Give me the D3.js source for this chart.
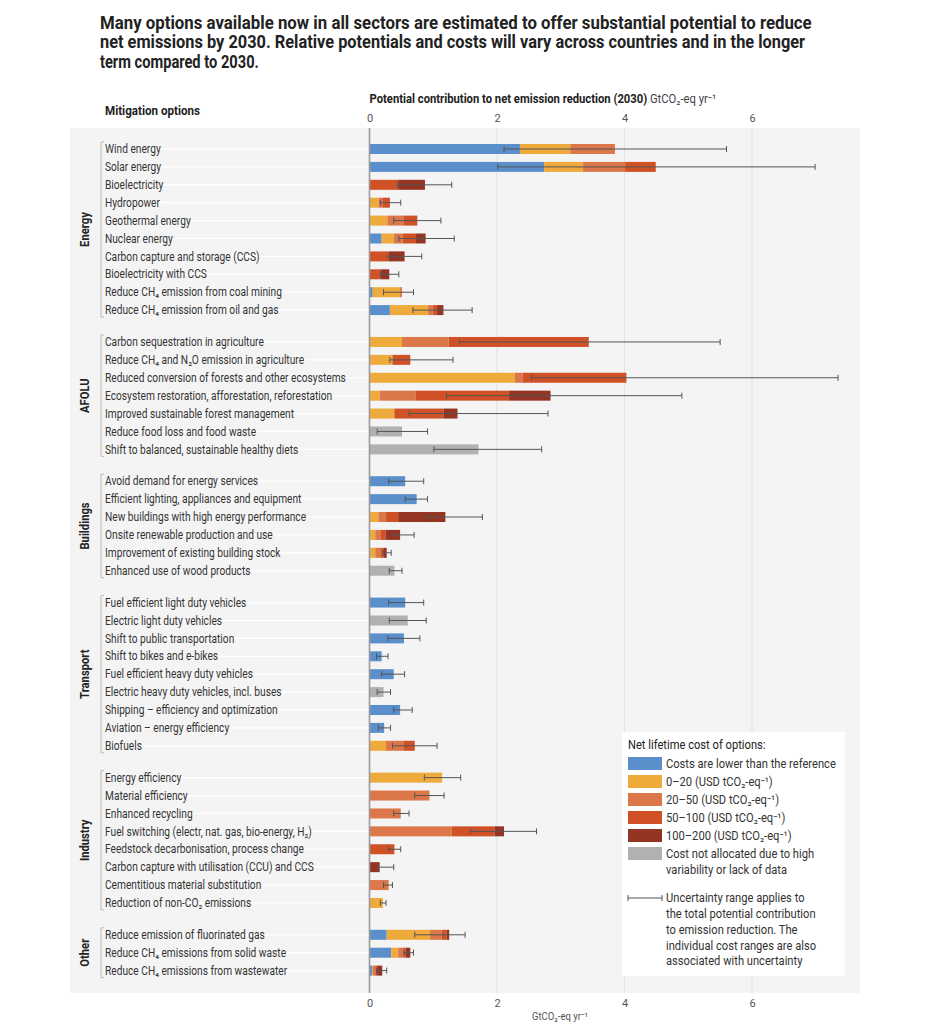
<!DOCTYPE html>
<html>
<head>
<meta charset="utf-8">
<script src="https://cdn.jsdelivr.net/npm/d3@7"></script>
<style>
  body { margin: 0; background: #fff; }
  svg text { font-family: Roboto, "Open Sans", sans-serif; fill: #333; }
</style>
</head>
<body>
<svg id="chart"></svg>
<script>
// options, grouped by sector
const sectors = ['Energy', 'AFOLU', 'Buildings', 'Transport', 'Industry', 'Other'];
const sectorOf = [
  0,0,0,0,0,0,0,0,0,0,
  1,1,1,1,1,1,1,
  2,2,2,2,2,2,
  3,3,3,3,3,3,3,3,3,
  4,4,4,4,4,4,4,4,
  5,5,5
];
const options = [
  'Wind energy', 'Solar energy', 'Bioelectricity', 'Hydropower', 'Geothermal energy',
  'Nuclear energy', 'Carbon capture and storage (CCS)', 'Bioelectricity with CCS',
  'Reduce CH₄ emission from coal mining', 'Reduce CH₄ emission from oil and gas',
  'Carbon sequestration in agriculture', 'Reduce CH₄ and N₂O emission in agriculture',
  'Reduced conversion of forests and other ecosystems', 'Ecosystem restoration, afforestation, reforestation',
  'Improved sustainable forest management', 'Reduce food loss and food waste',
  'Shift to balanced, sustainable healthy diets',
  'Avoid demand for energy services', 'Efficient lighting, appliances and equipment',
  'New buildings with high energy performance', 'Onsite renewable production and use',
  'Improvement of existing building stock', 'Enhanced use of wood products',
  'Fuel efficient light duty vehicles', 'Electric light duty vehicles', 'Shift to public transportation',
  'Shift to bikes and e-bikes', 'Fuel efficient heavy duty vehicles', 'Electric heavy duty vehicles, incl. buses',
  'Shipping – efficiency and optimization', 'Aviation – energy efficiency', 'Biofuels',
  'Energy efficiency', 'Material efficiency', 'Enhanced recycling',
  'Fuel switching (electr, nat. gas, bio-energy, H₂)', 'Feedstock decarbonisation, process change',
  'Carbon capture with utilisation (CCU) and CCS', 'Cementitious material substitution',
  'Reduction of non-CO₂ emissions',
  'Reduce emission of fluorinated gas', 'Reduce CH₄ emissions from solid waste',
  'Reduce CH₄ emissions from wastewater'
];

// potential (GtCO2-eq/yr) in each cost class, per option
const lowerCost = [2.36,2.74,0,0,0,0.19,0,0,0.05,0.32, 0,0,0,0,0,0,0, 0.56,0.74,0,0,0,0, 0.56,0,0.54,0.19,0.38,0,0.48,0.23,0, 0,0,0,0,0,0,0,0, 0.27,0.34,0.04];
const cost0_20  = [0.79,0.61,0,0.14,0.28,0.19,0,0,0.43,0.60, 0.51,0.36,2.28,0.16,0.39,0,0, 0,0,0.14,0.09,0.09,0, 0,0,0,0,0,0,0,0,0.26, 1.14,0,0,0,0,0,0,0.21, 0.68,0.11,0.01];
const cost20_50 = [0.70,0.66,0,0.06,0.25,0.14,0,0,0.03,0.07, 0.73,0,0.12,0.56,0,0,0, 0,0,0.12,0.08,0.08,0, 0,0,0,0,0,0,0,0,0.27, 0,0.94,0.49,1.29,0,0,0.30,0, 0.18,0.08,0.04];
const cost50_100 = [0,0.48,0.45,0.12,0.22,0.21,0.30,0.17,0,0.07, 2.20,0.28,1.63,1.47,0.77,0,0, 0,0,0.19,0.08,0.05,0, 0,0,0,0,0,0,0,0,0.18, 0,0,0,0.67,0.39,0,0,0, 0.08,0.04,0.03];
const cost100_200 = [0,0,0.42,0,0,0.15,0.25,0.14,0,0.10, 0,0,0,0.65,0.22,0,0, 0,0,0.74,0.23,0.05,0, 0,0,0,0,0,0,0,0,0, 0,0,0,0.15,0,0.16,0,0, 0.04,0.07,0.08];
const notAllocated = [0,0,0,0,0,0,0,0,0,0, 0,0,0,0,0,0.51,1.71, 0,0,0,0,0,0.39, 0,0.60,0,0,0,0.22,0,0,0, 0,0,0,0,0,0,0,0, 0,0,0];

// uncertainty range of the total potential
const rangeLow  = [2.11,2.01,0.44,0.17,0.38,0.46,0.29,0.17,0.22,0.68, 1.41,0.32,2.54,1.21,0.62,0.12,1.01, 0.30,0.56,0.90,0.36,0.22,0.31, 0.30,0.31,0.29,0.11,0.19,0.12,0.38,0.14,0.36, 0.86,0.71,0.38,1.58,0.30,0.13,0.22,0.17, 0.71,0.54,0.11];
const rangeHigh = [5.60,6.99,1.29,0.49,1.12,1.33,0.82,0.46,0.69,1.61, 5.50,1.31,7.35,4.90,2.80,0.91,2.70, 0.85,0.91,1.77,0.70,0.34,0.51, 0.85,0.89,0.79,0.29,0.55,0.33,0.67,0.33,1.06, 1.43,1.17,0.62,2.62,0.49,0.38,0.36,0.26, 1.50,0.69,0.27];

const xTicks = [0, 2, 4, 6];
const costKeys = ['lower', 'c0_20', 'c20_50', 'c50_100', 'c100_200', 'na'];
const costColors = ['#5b8fcb', '#efaa3c', '#dc774a', '#d15127', '#943423', '#b1b1b1'];
const costLabels = [
  'Costs are lower than the reference',
  '0–20 (USD tCO₂-eq⁻¹)',
  '20–50 (USD tCO₂-eq⁻¹)',
  '50–100 (USD tCO₂-eq⁻¹)',
  '100–200 (USD tCO₂-eq⁻¹)',
  'Cost not allocated due to high|variability or lack of data'
];

// squeeze a node horizontally around x0 so it is `target` px wide (narrow font look)
function squeeze(node, target, x0) {
  const w = node.getBBox().width;
  const k = target / w;
  d3.select(node).attr('transform', `translate(${x0},0) scale(${k},1) translate(${-x0},0)`);
  return k;
}

function main() {
  const width = 951, height = 1024;
  const svg = d3.select('#chart').attr('width', width).attr('height', height);

  const rows = options.map((name, i) => ({
    name, i, sector: sectorOf[i],
    lower: lowerCost[i], c0_20: cost0_20[i], c20_50: cost20_50[i],
    c50_100: cost50_100[i], c100_200: cost100_200[i], na: notAllocated[i],
    lo: rangeLow[i], hi: rangeHigh[i]
  }));

  // vertical slot: one per row, plus a gap between sectors
  const sectorGap = 0.78;
  const y = d3.scaleLinear().domain([0, 1]).range([149, 149 + 17.9]);
  const slot = d => d.i + d.sector * sectorGap;
  const x = d3.scaleLinear().domain([0, 6]).range([369.5, 752]);
  const barH = 10;

  // title
  const title = [
    'Many options available now in all sectors are estimated to offer substantial potential to reduce',
    'net emissions by 2030. Relative potentials and costs will vary across countries and in the longer',
    'term compared to 2030.'
  ];
  const titleW = [712, 706, 159];
  svg.append('g').selectAll('text').data(title).join('text')
    .attr('x', 100).attr('y', (d, i) => 29 + i * 19.3)
    .style('font-size', '17.5px').style('font-weight', 'bold').style('fill', '#222')
    .text(d => d)
    .each(function(d, i) { squeeze(this, titleW[i], 100); });

  // panel
  svg.append('rect').attr('x', 70).attr('y', 128).attr('width', 790).attr('height', 865)
    .attr('fill', '#f4f4f4');

  // grid
  svg.append('g').selectAll('line').data(xTicks.filter(t => t > 0)).join('line')
    .attr('x1', d => x(d)).attr('x2', d => x(d)).attr('y1', 128).attr('y2', 993)
    .attr('stroke', '#e2e2e2').attr('stroke-width', 1.2);

  // row guides
  svg.append('g').selectAll('line').data(rows).join('line')
    .attr('x1', 104).attr('x2', x(0))
    .attr('y1', d => y(slot(d))).attr('y2', d => y(slot(d)))
    .attr('stroke', '#fff').attr('stroke-width', 1.2);

  // axis headers
  svg.append('text').attr('x', 105).attr('y', 115)
    .style('font-size', '12.5px').style('font-weight', 'bold').style('fill', '#222')
    .text('Mitigation options')
    .each(function() { squeeze(this, 95, 105); });
  const head = svg.append('text').attr('x', x(0)).attr('y', 103).style('font-size', '12px');
  head.append('tspan').style('font-weight', 'bold').style('fill', '#222')
    .text('Potential contribution to net emission reduction (2030)');
  head.append('tspan').style('fill', '#444').text(' GtCO₂-eq yr⁻¹');
  squeeze(head.node(), 347, x(0));

  const topAxis = svg.append('g').attr('transform', 'translate(0,122)')
    .call(d3.axisTop(x).tickValues(xTicks).tickFormat(d3.format('d')).tickSize(0).tickPadding(0));
  const botAxis = svg.append('g').attr('transform', 'translate(0,999)')
    .call(d3.axisBottom(x).tickValues(xTicks).tickFormat(d3.format('d')).tickSize(0).tickPadding(0));
  [topAxis, botAxis].forEach(a => {
    a.select('.domain').remove();
    a.selectAll('text').style('font-size', '11px').style('fill', '#555')
      .style('font-family', 'Roboto, "Open Sans", sans-serif');
  });
  topAxis.selectAll('text').attr('dy', '0');
  svg.append('text').attr('x', 560).attr('y', 1020).attr('text-anchor', 'middle')
    .style('font-size', '10.5px').style('fill', '#555').text('GtCO₂-eq yr⁻¹')
    .each(function() { squeeze(this, 56, 560); });

  // option labels (narrowed to the reference's condensed face)
  const labels = svg.append('g');
  labels.selectAll('text').data(rows).join('text')
    .attr('x', 105).attr('y', d => y(slot(d))).attr('dy', '0.35em')
    .style('font-size', '12px').style('fill', '#333')
    .text(d => d.name);
  squeeze(labels.node(), 241, 105);

  // sector brackets and labels
  const groups = d3.groups(rows, d => d.sector);
  const br = svg.append('g');
  groups.forEach(([s, g]) => {
    const y0 = y(slot(g[0])) - 7, y1 = y(slot(g[g.length - 1])) + 7;
    br.append('path')
      .attr('d', `M104,${y0}H101V${y1}H104`)
      .attr('fill', 'none').attr('stroke', '#bbb').attr('stroke-width', 1);
    br.append('text')
      .attr('transform', `translate(89,${(y0 + y1) / 2}) rotate(-90) scale(0.9,1)`)
      .attr('text-anchor', 'middle')
      .style('font-size', '12.5px').style('font-weight', 'bold').style('fill', '#222')
      .text(sectors[s]);
  });

  // stacked bars
  const stack = d3.stack().keys(costKeys)(rows);
  svg.append('g').selectAll('g').data(stack).join('g')
    .attr('fill', (d, i) => costColors[i])
    .selectAll('rect').data(d => d.filter(p => p[1] - p[0] > 0)).join('rect')
      .attr('x', p => x(p[0]))
      .attr('width', p => x(p[1]) - x(p[0]))
      .attr('y', p => y(slot(p.data)) - barH / 2)
      .attr('height', barH);

  // zero axis line
  svg.append('line').attr('x1', x(0)).attr('x2', x(0)).attr('y1', 128).attr('y2', 993)
    .attr('stroke', '#9a9a9a').attr('stroke-width', 1.6);

  // uncertainty ranges
  svg.append('g').attr('stroke', '#555').attr('stroke-width', 1).attr('fill', 'none')
    .selectAll('path').data(rows).join('path')
    .attr('d', d => {
      const yy = y(slot(d));
      return `M${x(d.lo)},${yy - 3}V${yy + 3}M${x(d.lo)},${yy}H${x(d.hi)}M${x(d.hi)},${yy - 3}V${yy + 3}`;
    });

  // legend
  const lg = svg.append('g').attr('transform', 'translate(622,732)');
  lg.append('rect').attr('width', 223).attr('height', 244).attr('fill', '#fff');
  const lgText = lg.append('g');
  lgText.append('text').attr('x', 6).attr('y', 17).style('font-size', '12px').style('fill', '#222')
    .text('Net lifetime cost of options:');
  const item = lg.selectAll('g.item').data(costLabels).join('g').attr('class', 'item')
    .attr('transform', (d, i) => `translate(6,${25 + i * 18})`);
  item.append('rect').attr('width', 34).attr('height', 13).attr('fill', (d, i) => costColors[i]);
  const itemText = lg.append('g');
  costLabels.forEach((lab, i) => {
    itemText.append('text').style('font-size', '12px').style('fill', '#333')
      .selectAll('tspan').data(lab.split('|')).join('tspan')
        .attr('x', 44).attr('y', (d, j) => 25 + i * 18 + 6.5 + j * 16).attr('dy', '0.35em')
        .text(d => d);
  });
  const ey = 166;
  lg.append('path').attr('d', `M6,${ey - 3}V${ey + 3}M6,${ey}H40M40,${ey - 3}V${ey + 3}`)
    .attr('stroke', '#555').attr('fill', 'none');
  const unc = ['Uncertainty range applies to', 'the total potential contribution',
    'to emission reduction. The', 'individual cost ranges are also', 'associated with uncertainty'];
  itemText.append('g').selectAll('text').data(unc).join('text')
    .attr('x', 44).attr('y', (d, i) => ey + i * 15.8).attr('dy', '0.35em')
    .style('font-size', '12px').style('fill', '#333').text(d => d);
  // narrow the legend text like the labels
  const k = 170 / itemText.select('text').node().getBBox().width;
  itemText.attr('transform', `translate(44,0) scale(${k},1) translate(-44,0)`);
  lgText.attr('transform', `translate(6,0) scale(${k},1) translate(-6,0)`);
}
main();
</script>
</body>
</html>
